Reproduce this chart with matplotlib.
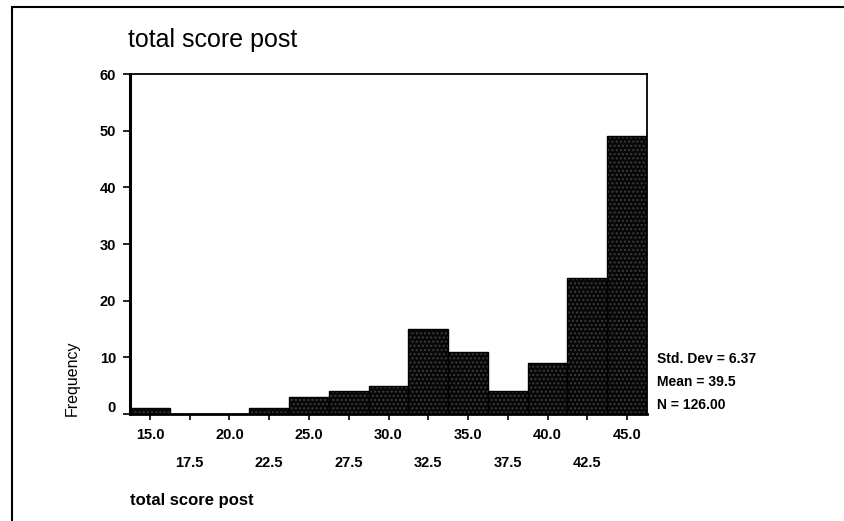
import matplotlib
matplotlib.use("Agg")
import matplotlib.pyplot as plt
from matplotlib.patches import Rectangle
from matplotlib.transforms import ScaledTranslation

# ---- data ----
bin_centers = [15.0, 17.5, 20.0, 22.5, 25.0, 27.5, 30.0, 32.5, 35.0, 37.5, 40.0, 42.5, 45.0]
frequency = [1, 0, 0, 1, 3, 4, 5, 15, 11, 4, 9, 24, 49]
row1_ticks = [15.0, 20.0, 25.0, 30.0, 35.0, 40.0, 45.0]
row2_ticks = [17.5, 22.5, 27.5, 32.5, 37.5, 42.5]
y_ticks = [0, 10, 20, 30, 40, 50, 60]
title = "total score post"
x_label = "total score post"
y_label = "Frequency"
stats_lines = ["Std. Dev = 6.37", "Mean = 39.5", "N = 126.00"]
bin_width = 2.5

plt.rcParams['font.family'] = ['Liberation Sans', 'DejaVu Sans']

W, H = 844, 521
fig = plt.figure(figsize=(W / 100, H / 100), dpi=100)

def fx(px):
    return px / W

def fy(py):
    return 1 - py / H

ax_l, ax_r, ax_t, ax_b = 130, 647, 74, 414
ax = fig.add_axes([fx(ax_l), fy(ax_b), fx(ax_r - ax_l), fy(ax_t) - fy(ax_b)])

# textured dark bars
ax.bar(bin_centers, frequency, width=bin_width, color='#070707', edgecolor='#3c3c3c',
       hatch='....', linewidth=0, zorder=2)
ax.bar(bin_centers, frequency, width=bin_width, fill=False, edgecolor='black',
       linewidth=1.0, zorder=3)

ax.set_xlim(bin_centers[0] - bin_width / 2, bin_centers[-1] + bin_width / 2)
ax.set_ylim(0, 60)

ax.set_yticks(y_ticks)
ax.set_yticklabels([str(v) for v in y_ticks], fontsize=10.5, fontweight='bold')
ax.tick_params(axis='y', direction='out', length=5, width=1.2, pad=5)
# SPSS draws the zero label slightly above the baseline
zero_lbl = ax.get_yticklabels()[0]
zero_lbl.set_transform(zero_lbl.get_transform() + ScaledTranslation(0, 8 / 100, fig.dpi_scale_trans))

ax.set_xticks(row1_ticks)
ax.set_xticklabels([f"{v:.1f}" for v in row1_ticks], fontsize=10.5, fontweight='bold')
ax.set_xticks(row2_ticks, minor=True)
ax.set_xticklabels([f"{v:.1f}" for v in row2_ticks], minor=True, fontsize=10.5, fontweight='bold')
ax.tick_params(axis='x', which='major', direction='out', length=4, width=1.2, pad=6)
ax.tick_params(axis='x', which='minor', direction='out', length=4, width=1.2, pad=26)

for s in ax.spines.values():
    s.set_linewidth(1.3)
ax.spines['left'].set_linewidth(2.2)
ax.spines['bottom'].set_linewidth(2.0)

# title
fig.text(fx(128), fy(40), title, fontsize=18, ha='left', va='center')

# y label
fig.text(fx(72), fy(378), y_label, fontsize=11.5, rotation=90, ha='center', va='center')

# x label
fig.text(fx(130), fy(500), x_label, fontsize=12, fontweight='bold', ha='left', va='center')

# stats
for i, line in enumerate(stats_lines):
    fig.text(fx(657), fy(359 + i * 23), line, fontsize=10, fontweight='bold',
             ha='left', va='center')

# outer frame
fig.patches.append(Rectangle((fx(12), fy(H + 5)), fx(W + 10) - fx(12), fy(7) - fy(H + 5),
                             transform=fig.transFigure, fill=False, edgecolor='black',
                             linewidth=1.5))

fig.savefig("out.png", dpi=100, facecolor='white')
